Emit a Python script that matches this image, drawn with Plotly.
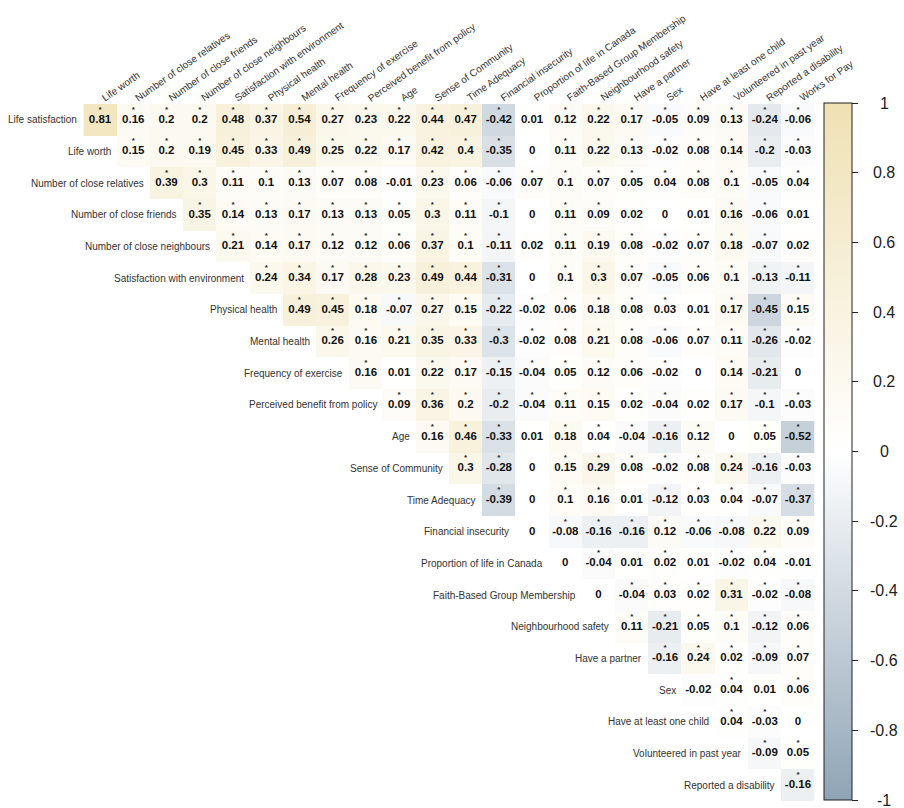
import plotly.graph_objects as go

variables = [
    "Life satisfaction", "Life worth", "Number of close relatives", "Number of close friends",
    "Number of close neighbours", "Satisfaction with environment", "Physical health", "Mental health",
    "Frequency of exercise", "Perceived benefit from policy", "Age", "Sense of Community",
    "Time Adequacy", "Financial insecurity", "Proportion of life in Canada",
    "Faith-Based Group Membership", "Neighbourhood safety", "Have a partner", "Sex",
    "Have at least one child", "Volunteered in past year", "Reported a disability", "Works for Pay",
]
row_labels = variables[:-1]
col_labels = variables[1:]

# upper-triangle correlations: row i holds columns i..21
corr_rows = [
    [0.81, 0.16, 0.2, 0.2, 0.48, 0.37, 0.54, 0.27, 0.23, 0.22, 0.44, 0.47, -0.42, 0.01, 0.12, 0.22, 0.17, -0.05, 0.09, 0.13, -0.24, -0.06],
    [0.15, 0.2, 0.19, 0.45, 0.33, 0.49, 0.25, 0.22, 0.17, 0.42, 0.4, -0.35, 0, 0.11, 0.22, 0.13, -0.02, 0.08, 0.14, -0.2, -0.03],
    [0.39, 0.3, 0.11, 0.1, 0.13, 0.07, 0.08, -0.01, 0.23, 0.06, -0.06, 0.07, 0.1, 0.07, 0.05, 0.04, 0.08, 0.1, -0.05, 0.04],
    [0.35, 0.14, 0.13, 0.17, 0.13, 0.13, 0.05, 0.3, 0.11, -0.1, 0, 0.11, 0.09, 0.02, 0, 0.01, 0.16, -0.06, 0.01],
    [0.21, 0.14, 0.17, 0.12, 0.12, 0.06, 0.37, 0.1, -0.11, 0.02, 0.11, 0.19, 0.08, -0.02, 0.07, 0.18, -0.07, 0.02],
    [0.24, 0.34, 0.17, 0.28, 0.23, 0.49, 0.44, -0.31, 0, 0.1, 0.3, 0.07, -0.05, 0.06, 0.1, -0.13, -0.11],
    [0.49, 0.45, 0.18, -0.07, 0.27, 0.15, -0.22, -0.02, 0.06, 0.18, 0.08, 0.03, 0.01, 0.17, -0.45, 0.15],
    [0.26, 0.16, 0.21, 0.35, 0.33, -0.3, -0.02, 0.08, 0.21, 0.08, -0.06, 0.07, 0.11, -0.26, -0.02],
    [0.16, 0.01, 0.22, 0.17, -0.15, -0.04, 0.05, 0.12, 0.06, -0.02, 0, 0.14, -0.21, 0],
    [0.09, 0.36, 0.2, -0.2, -0.04, 0.11, 0.15, 0.02, -0.04, 0.02, 0.17, -0.1, -0.03],
    [0.16, 0.46, -0.33, 0.01, 0.18, 0.04, -0.04, -0.16, 0.12, 0, 0.05, -0.52],
    [0.3, -0.28, 0, 0.15, 0.29, 0.08, -0.02, 0.08, 0.24, -0.16, -0.03],
    [-0.39, 0, 0.1, 0.16, 0.01, -0.12, 0.03, 0.04, -0.07, -0.37],
    [0, -0.08, -0.16, -0.16, 0.12, -0.06, -0.08, 0.22, 0.09],
    [0, -0.04, 0.01, 0.02, 0.01, -0.02, 0.04, -0.01],
    [0, -0.04, 0.03, 0.02, 0.31, -0.02, -0.08],
    [0.11, -0.21, 0.05, 0.1, -0.12, 0.06],
    [-0.16, 0.24, 0.02, -0.09, 0.07],
    [-0.02, 0.04, 0.01, 0.06],
    [0.04, -0.03, 0],
    [-0.09, 0.05],
    [-0.16],
]

# significance flags (1 = asterisk shown)
sig_rows = [
    [1]*13 + [0] + [1]*8,
    [1]*12 + [0] + [1]*8,
    [1]*7 + [0] + [1]*12,
    [1]*10 + [0, 1, 1, 0, 0, 0, 1, 1, 0],
    [1]*9 + [0] + [1]*7 + [0],
    [1]*8 + [0] + [1]*8,
    [1]*12 + [0] + [1]*3,
    [1]*15,
    [1, 0] + [1]*8 + [0, 1, 1, 0],
    [1]*9 + [0, 1, 1, 1],
    [1, 1, 1, 0, 1, 1, 1, 1, 1, 0, 1, 1],
    [1, 1, 0] + [1]*8,
    [1, 0, 1, 1, 0, 1, 1, 1, 1, 1],
    [0] + [1]*8,
    [0, 1, 0, 1, 0, 1, 1, 0],
    [0, 1, 1, 1, 1, 1, 1],
    [1]*6,
    [1]*5,
    [0, 1, 0, 1],
    [1, 1, 0],
    [1, 1],
    [1],
]

cbar_ticks = [1, 0.8, 0.6, 0.4, 0.2, 0, -0.2, -0.4, -0.6, -0.8, -1]
cbar_ticktext = ["1", "0.8", "0.6", "0.4", "0.2", "0", "-0.2", "-0.4", "-0.6", "-0.8", "-1"]

n = len(row_labels)
W, H = 904, 808
gx0, gx1 = 83.4, 814.6
gy0, gy1 = 104.0, 801.0
cb_x0, cb_w = 824.0, 28.0
cb_top, cb_bot = 103.0, 800.0

z = [[None]*n for _ in range(n)]
vx, vy, vt, sx, sy = [], [], [], [], []
for i, (vals, sigs) in enumerate(zip(corr_rows, sig_rows)):
    for k, (v, s) in enumerate(zip(vals, sigs)):
        j = i + k
        z[i][j] = v
        vx.append(j); vy.append(i); vt.append(f"{v:g}")
        if s:
            sx.append(j); sy.append(i - 0.32)

colorscale = [[0.0, "#8FA4B5"], [0.5, "#FFFFFF"], [1.0, "#EFE1B3"]]

fig = go.Figure()
fig.add_trace(go.Heatmap(
    z=z, x=list(range(n)), y=list(range(n)), zmin=-1, zmax=1,
    colorscale=colorscale, hoverinfo="skip",
    colorbar=dict(
        x=cb_x0 / W, xanchor="left", xpad=0, ypad=0,
        y=1 - cb_top / H, yanchor="top", len=(cb_bot - cb_top) / H, lenmode="fraction",
        thickness=cb_w, thicknessmode="pixels",
        outlinewidth=1, outlinecolor="#222222",
        tickvals=cbar_ticks, ticks="outside", ticklen=6, tickwidth=1, tickcolor="#222222",
        showticklabels=False,
    ),
))
fig.add_trace(go.Scatter(
    x=vx, y=vy, text=vt, mode="text", hoverinfo="skip",
    textfont=dict(family="Liberation Sans, Arial", size=11.5, color="#111111", weight="bold"),
    showlegend=False,
))
fig.add_trace(go.Scatter(
    x=sx, y=sy, text=["*"]*len(sx), mode="text", hoverinfo="skip",
    textfont=dict(family="Liberation Sans, Arial", size=8, color="#222222", weight="bold"),
    showlegend=False,
))

annotations = []
for i, lab in enumerate(row_labels):
    annotations.append(dict(
        x=i - 0.5, y=i, xref="x", yref="y", text=lab, showarrow=False,
        xanchor="right", yanchor="middle", xshift=-4,
        font=dict(family="Liberation Sans, Arial", size=10, color="#333333"),
    ))
for j, lab in enumerate(col_labels):
    annotations.append(dict(
        x=j, y=1 - gy0 / H, xref="x", yref="paper", text=lab, showarrow=False,
        xanchor="left", yanchor="bottom", textangle=-35, xshift=-3, yshift=-2,
        font=dict(family="Liberation Sans, Arial", size=10, color="#333333"),
    ))
for v, t in zip(cbar_ticks, cbar_ticktext):
    ypx = cb_bot - (v + 1) / 2 * (cb_bot - cb_top)
    annotations.append(dict(
        x=884 / W, y=1 - ypx / H, xref="paper", yref="paper", text=t, showarrow=False,
        xanchor="center", yanchor="middle",
        font=dict(family="Liberation Sans, Arial", size=16, color="#222222"),
    ))

fig.update_layout(
    width=W, height=H, margin=dict(l=0, r=0, t=0, b=0),
    paper_bgcolor="white", plot_bgcolor="white", showlegend=False,
    xaxis=dict(domain=[gx0 / W, gx1 / W], range=[-0.5, n - 0.5], visible=False, fixedrange=True),
    yaxis=dict(domain=[1 - gy1 / H, 1 - gy0 / H], range=[n - 0.5, -0.5], visible=False, fixedrange=True),
    annotations=annotations,
)
fig.write_html("out.html")
